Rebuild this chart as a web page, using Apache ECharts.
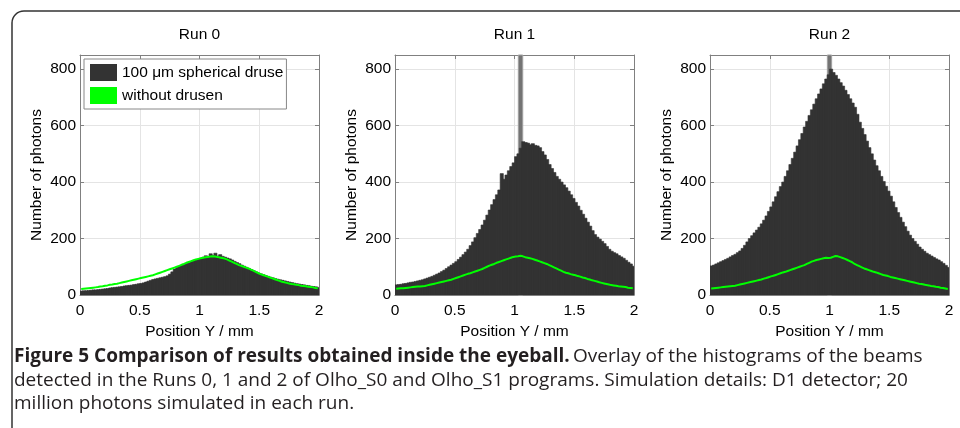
<!DOCTYPE html>
<html><head><meta charset="utf-8">
<script src="https://cdn.jsdelivr.net/npm/echarts@6/dist/echarts.min.js"></script>
<style>html,body{margin:0;padding:0;background:#fff}#c{width:960px;height:428px}</style>
</head><body><div id="c"></div>
<script>
const runTitles = ['Run 0', 'Run 1', 'Run 2'];
const seriesNames = ['100 \u03bcm spherical druse', 'without drusen'];
const xAxisName = 'Position Y / mm';
const yAxisName = 'Number of photons';
const xTicks = [0, 0.5, 1, 1.5, 2];
const yTicks = [0, 200, 400, 600, 800];
const yMax = 850;
const binCount = 100;
const binWidth = 0.02;
const binCenters = Array.from({length: binCount}, (_, i) => +(binWidth / 2 + binWidth * i).toFixed(3));

const run0Drusen = [
  14,15,15,16,17,18,18,19,20,21,
  22,23,25,26,27,28,29,30,32,33,
  34,35,37,38,40,41,43,46,49,52,
  55,57,59,61,63,65,68,74,82,92,
  99,103,106,109,112,115,118,121,124,127,
  130,134,139,136,146,140,148,138,143,137,
  134,131,128,124,119,115,111,106,102,98,
  94,90,86,82,78,75,72,69,66,63,
  61,58,56,54,52,50,48,46,44,42,
  40,39,37,36,34,33,31,30,29,27
];
const run0NoDrusen = [
  21,22,23,24,25,26,27,28,30,31,
  33,34,36,37,39,40,42,44,46,48,
  50,52,54,56,58,60,62,64,66,68,
  70,73,76,79,82,85,88,91,94,97,
  100,103,107,110,114,117,120,123,126,128,
  130,132,134,135,136,137,136,135,133,131,
  129,126,122,118,114,110,106,103,100,97,
  94,90,86,82,78,74,71,68,65,62,
  59,56,53,50,47,45,43,41,39,38,
  36,35,33,32,31,29,28,27,25,24
];
const run1Drusen = [
  36,37,38,40,41,43,45,46,48,50,
  52,54,57,60,63,66,70,74,78,83,
  88,94,100,106,112,118,126,134,143,152,
  162,175,188,203,218,232,248,265,283,301,
  320,338,355,372,430,410,425,440,455,468,
  490,500,520,543,540,538,532,536,530,528,
  522,508,496,480,462,448,434,420,410,400,
  390,380,368,355,342,328,315,300,286,272,
  258,244,228,214,205,198,190,182,172,162,
  155,150,146,140,135,130,123,116,110,102
];
const run1NoDrusen = [
  22,23,24,24,25,26,27,28,29,30,
  30,31,32,34,36,38,40,42,44,46,
  48,50,52,54,57,60,63,66,69,72,
  75,77,80,83,86,89,92,96,100,104,
  107,110,114,117,120,123,126,129,132,135,
  136,137,139,137,134,132,130,128,125,122,
  119,116,113,110,106,102,98,94,90,86,
  82,79,77,74,72,70,67,65,62,60,
  57,55,52,50,48,45,43,41,39,37,
  35,34,33,31,30,29,28,26,25,24
];
const run2Drusen = [
  103,106,110,114,118,122,126,130,135,140,
  144,150,156,165,176,188,200,210,220,230,
  240,252,265,280,296,312,330,348,366,384,
  400,420,440,462,484,506,528,550,572,595,
  615,636,656,676,695,712,730,748,765,780,
  800,788,778,765,752,740,725,710,695,680,
  665,640,612,590,568,545,522,500,478,458,
  440,420,402,385,368,350,330,310,292,275,
  258,242,226,212,200,190,180,170,162,155,
  148,143,138,133,128,124,118,112,105,98
];
const run2NoDrusen = [
  23,24,25,26,27,28,29,30,31,32,
  33,35,37,39,41,43,45,47,49,51,
  53,55,58,60,63,66,68,71,74,77,
  80,82,85,88,91,94,97,100,103,106,
  110,114,118,121,124,126,128,130,132,131,
  132,135,138,137,134,131,128,124,120,116,
  110,106,102,98,94,91,88,85,82,80,
  77,74,71,69,67,64,62,60,58,56,
  54,52,50,48,46,44,42,40,39,37,
  35,34,32,31,29,28,26,25,23,21
];
const run1Band = [1.032, 1.069];
const run2Band = [0.982, 1.018];

const captionBold = 'Figure 5 Comparison of results obtained inside the eyeball.';
const captionLines = [
  'Overlay of the histograms of the beams',
  'detected in the Runs 0, 1 and 2 of Olho_S0 and Olho_S1 programs. Simulation details: D1 detector; 20',
  'million photons simulated in each run.'
];

const drusenRuns = [run0Drusen, run1Drusen, run2Drusen];
const noDrusenRuns = [run0NoDrusen, run1NoDrusen, run2NoDrusen];
const bands = [null, run1Band, run2Band];

const FONT = 'Liberation Sans, Arial, Helvetica, sans-serif';
const FS = 15.5;
const CAP_FS = 19;
const gridLefts = [80, 395, 710];
const gridTop = 55, gridW = 239, gridH = 240;
const frameColor = '#808080';
const darkColor = '#333333';

const grids = [], xAxes = [], yAxes = [], series = [], graphics = [];
const xInterval = xTicks[1] - xTicks[0];
const yInterval = yTicks[1] - yTicks[0];

for (let i = 0; i < 3; i++) {
  grids.push({left: gridLefts[i], top: gridTop, width: gridW, height: gridH, show: false, outerBoundsMode: 'none', containLabel: false});
  const tickStyle = {show: true, inside: true, length: 4, lineStyle: {color: frameColor}};
  xAxes.push({
    gridIndex: i, type: 'value', min: xTicks[0], max: xTicks[xTicks.length - 1], interval: xInterval,
    position: 'bottom',
    axisLine: {show: true, onZero: false, lineStyle: {color: frameColor, width: 1}},
    axisTick: tickStyle,
    axisLabel: {margin: 8, color: '#000', fontSize: FS, fontFamily: FONT},
    splitLine: {show: true, lineStyle: {color: '#e4e4e4', width: 1}},
    name: xAxisName, nameLocation: 'middle', nameGap: 26,
    nameTextStyle: {color: '#000', fontSize: FS, fontFamily: FONT}
  });
  yAxes.push({
    gridIndex: i, type: 'value', min: 0, max: yMax, interval: yInterval,
    position: 'left',
    axisLine: {show: true, onZero: false, lineStyle: {color: frameColor, width: 1}},
    axisTick: tickStyle,
    axisLabel: {margin: 4, color: '#000', fontSize: FS, fontFamily: FONT, showMaxLabel: false,
      formatter: v => (yTicks.indexOf(v) >= 0 ? String(v) : '')},
    splitLine: {show: true, lineStyle: {color: '#e4e4e4', width: 1}},
    name: yAxisName, nameLocation: 'middle', nameGap: 35,
    nameTextStyle: {color: '#000', fontSize: FS, fontFamily: FONT}
  });
}
// box axes (top / right), ticks only
for (let i = 0; i < 3; i++) {
  const tickStyle = {show: true, inside: true, length: 4, lineStyle: {color: frameColor}};
  xAxes.push({
    gridIndex: i, type: 'value', min: xTicks[0], max: xTicks[xTicks.length - 1], interval: xInterval,
    position: 'top',
    axisLine: {show: true, onZero: false, lineStyle: {color: frameColor, width: 1}},
    axisTick: tickStyle, axisLabel: {show: false}, splitLine: {show: false}
  });
  yAxes.push({
    gridIndex: i, type: 'value', min: 0, max: yMax, interval: yInterval,
    position: 'right',
    axisLine: {show: true, onZero: false, lineStyle: {color: frameColor, width: 1}},
    axisTick: tickStyle, axisLabel: {show: false}, splitLine: {show: false}
  });
}

function renderBin(params, api) {
  const x = api.value(0), y = api.value(1);
  const p0 = api.coord([x - binWidth / 2, y]);
  const p1 = api.coord([x + binWidth / 2, 0]);
  return {
    type: 'rect',
    shape: {x: p0[0], y: p0[1], width: p1[0] - p0[0] + 0.8, height: p1[1] - p0[1]},
    style: {fill: darkColor, stroke: darkColor, lineWidth: 0.6}
  };
}

for (let i = 0; i < 3; i++) {
  series.push({
    name: seriesNames[0], type: 'custom', xAxisIndex: i, yAxisIndex: i,
    data: binCenters.map((x, k) => [x, drusenRuns[i][k]]),
    encode: {x: 0, y: 1},
    renderItem: renderBin,
    itemStyle: {color: darkColor},
    z: 2, clip: true, silent: true
  });
  series.push({
    name: seriesNames[1], type: 'line', xAxisIndex: i, yAxisIndex: i,
    data: binCenters.map((x, k) => [x, noDrusenRuns[i][k]]),
    symbol: 'none', showSymbol: false,
    lineStyle: {color: '#00ff00', width: 2},
    itemStyle: {color: '#00ff00'},
    z: 3, silent: true
  });
  if (bands[i]) {
    series.push({
      name: 'band' + i, type: 'line', xAxisIndex: i, yAxisIndex: i, data: [],
      z: 4, silent: true,
      markArea: {
        silent: true,
        itemStyle: {color: '#747474', borderColor: '#a0a0a0', borderWidth: 1, opacity: 1},
        data: [[{xAxis: bands[i][0]}, {xAxis: bands[i][1]}]]
      }
    });
  }
  graphics.push({
    type: 'text', x: gridLefts[i] + gridW / 2, y: 34.5,
    style: {text: runTitles[i], align: 'center', verticalAlign: 'middle', fontSize: FS, fontFamily: FONT, fill: '#000'}
  });
}

// outer rounded frame
graphics.push({
  type: 'rect', shape: {x: 12, y: 11, width: 1000, height: 500, r: 12},
  style: {fill: 'none', stroke: '#333', lineWidth: 1.5}, z: -1
});
// caption
graphics.push({
  type: 'text', x: 14, y: 345,
  style: {
    text: '{b|' + captionBold + '} {r|' + captionLines[0] + '}\n{r|' + captionLines[1] + '}\n{r|' + captionLines[2] + '}',
    verticalAlign: 'top', align: 'left',
    rich: {
      b: {fontFamily: 'Open Sans', fontWeight: 'bold', fontSize: CAP_FS, lineHeight: 23.4, fill: '#231f20'},
      r: {fontFamily: 'Open Sans', fontWeight: 'normal', fontSize: CAP_FS, lineHeight: 23.4, fill: '#231f20'}
    }
  }
});

const chart = echarts.init(document.getElementById('c'), null, {renderer: 'canvas'});
chart.setOption({
  animation: false,
  backgroundColor: '#fff',
  textStyle: {fontFamily: FONT},
  grid: grids, xAxis: xAxes, yAxis: yAxes, series: series,
  legend: {
    show: true, orient: 'vertical', left: 84, top: 59,
    itemWidth: 27, itemHeight: 17, itemGap: 6, padding: [5, 3, 5, 6],
    borderColor: '#888', borderWidth: 1, backgroundColor: '#fff',
    selectedMode: false,
    textStyle: {color: '#000', fontSize: FS, fontFamily: FONT},
    itemStyle: {borderWidth: 0},
    data: [{name: seriesNames[0], icon: 'rect'}, {name: seriesNames[1], icon: 'rect'}]
  },
  graphic: graphics
});
</script></body></html>
